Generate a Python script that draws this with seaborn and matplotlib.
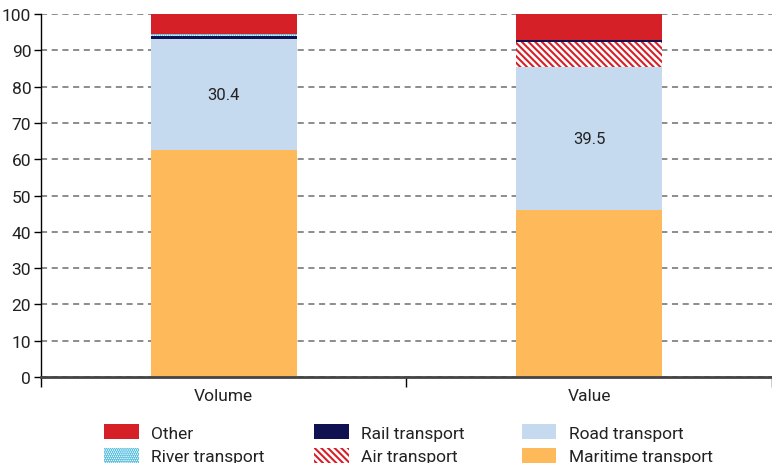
import numpy as np
import pandas as pd
import matplotlib
matplotlib.use("Agg")
import matplotlib.pyplot as plt
import seaborn as sns

# data (shares in %)
categories = ["Volume", "Value"]
modes = ["Maritime transport", "Road transport", "Air transport",
         "Rail transport", "River transport", "Other"]
maritime = [62.6, 46.0]
road = [30.4, 39.5]
air = [0.2, 6.8]
rail = [0.8, 0.4]
river = [0.5, 0.0]
other = [5.5, 7.3]

series = [maritime, road, air, rail, river, other]
df = pd.DataFrame({
    "category": np.repeat([categories], len(modes), axis=0).ravel(),
    "mode": np.repeat(modes, len(categories)),
    "share": np.ravel(series),
})

styles = {
    "Maritime transport": dict(color="#FDB95A", hatch=None, edgecolor="#FDB95A"),
    "Road transport": dict(color="#C5D9EF", hatch=None, edgecolor="#C5D9EF"),
    "Air transport": dict(color="white", hatch="\\" * 5, edgecolor="#D62027"),
    "Rail transport": dict(color="#0F1150", hatch=None, edgecolor="#0F1150"),
    "River transport": dict(color="white", hatch="." * 8, edgecolor="#5BC0E0"),
    "Other": dict(color="#D62027", hatch=None, edgecolor="#D62027"),
}

sns.set_style("white")
plt.rcParams['font.family'] = ['Roboto', 'DejaVu Sans']
plt.rcParams['hatch.linewidth'] = 1.5

fig = plt.figure(figsize=(7.72, 4.64), dpi=100)
ax = fig.add_axes([0.053, 0.185, 0.947, 0.783])

bottom = np.zeros(len(categories))
for m in modes:
    sub = df[df["mode"] == m]
    st = styles[m]
    sns.barplot(data=sub, x="category", y="share", order=categories, ax=ax,
                color=st["color"], saturation=1, width=0.4, bottom=bottom,
                hatch=st["hatch"], edgecolor=st["edgecolor"], linewidth=0,
                label=m, errorbar=None, zorder=3)
    bottom = bottom + sub["share"].to_numpy()

# value labels on road segment
for i, c in enumerate(categories):
    ax.text(i, maritime[i] + road[i] / 2, f"{road[i]:.1f}", ha="center",
            va="center", fontsize=12, color="#222222", zorder=4)

ax.set_ylim(0, 100)
ax.set_xlim(-0.5, 1.5)
ax.set_yticks(np.arange(0, 101, 10))
ax.yaxis.grid(True, linestyle=(0, (4, 3)), color="#6E6E6E", linewidth=1.1, zorder=0)
ax.xaxis.grid(False)
ax.set_xlabel("")
ax.set_ylabel("")

for s in ["top", "right"]:
    ax.spines[s].set_visible(False)
ax.spines["left"].set_color("black")
ax.spines["left"].set_linewidth(1.0)
ax.spines["bottom"].set_color("#444444")
ax.spines["bottom"].set_linewidth(2.0)
ax.spines["bottom"].set_zorder(5)

ax.tick_params(axis="y", direction="out", length=5, width=1, color="black",
               labelsize=12.5, pad=2, left=True, labelcolor="#222222")
ax.tick_params(axis="x", which="major", length=0, labelsize=12.5, pad=8,
               labelcolor="#222222")
ax.set_xticks([-0.5, 0.5, 1.5], minor=True)
ax.tick_params(axis="x", which="minor", direction="out", length=7, width=1,
               color="black", bottom=True)

handles, labels = ax.get_legend_handles_labels()
if ax.get_legend() is not None:
    ax.get_legend().remove()
hmap = dict(zip(labels, handles))
cols = [["Other", "River transport"], ["Rail transport", "Air transport"],
        ["Road transport", "Maritime transport"]]
xs = [0.128, 0.400, 0.669]
for x0, col in zip(xs, cols):
    fig.legend([hmap[l] for l in col], col, loc="upper left",
               bbox_to_anchor=(x0, 0.095), frameon=False, fontsize=12.5,
               handlelength=2.0, handleheight=0.95, handletextpad=0.7,
               labelspacing=0.4, borderaxespad=0, borderpad=0.3,
               labelcolor="#222222")

fig.savefig("out.png", dpi=100)
